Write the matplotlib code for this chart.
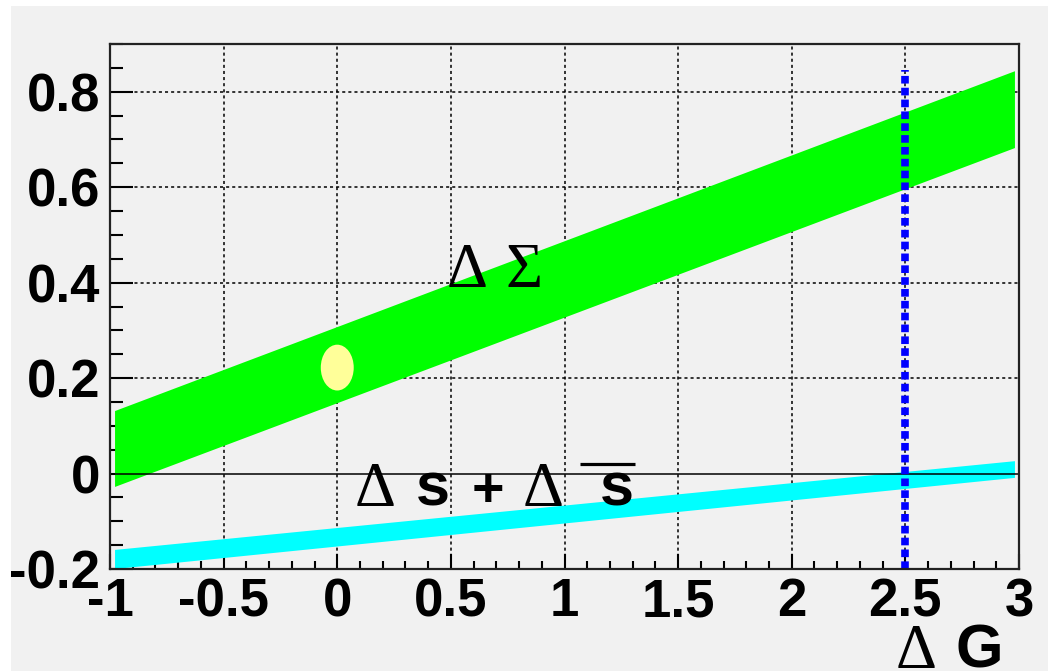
import matplotlib
matplotlib.use('Agg')
import matplotlib.pyplot as plt
from matplotlib.patches import Ellipse, Rectangle
from matplotlib.ticker import MultipleLocator

# band edges, read at the left and right ends of the bands
band_x = [-0.98, 2.98]
sigma_hi = [0.132, 0.844]
sigma_lo = [-0.027, 0.683]
strange_hi = [-0.159, 0.027]
strange_lo = [-0.199, -0.008]

# vertical marker at Delta G = 2.5
dg_x = 2.5
dg_y = [-0.2, 0.845]

# measured point (yellow ellipse)
pt_x, pt_y = 0.0, 0.222
pt_w, pt_h = 0.145, 0.096

xticks = [-1, -0.5, 0, 0.5, 1, 1.5, 2, 2.5, 3]
xticklabels = ['-1', '-0.5', '0', '0.5', '1', '1.5', '2', '2.5', '3']
yticks = [-0.2, 0, 0.2, 0.4, 0.6, 0.8]
yticklabels = ['-0.2', '0', '0.2', '0.4', '0.6', '0.8']

bg = '#f1f1f1'
sans = 'Liberation Sans'
serif = 'Liberation Serif'

fig = plt.figure(figsize=(10.48, 6.71), dpi=100)
fig.patch.set_facecolor('white')
fig.patches.append(Rectangle((11 / 1048, 0), 1, 1 - 6 / 671, transform=fig.transFigure,
                             facecolor=bg, edgecolor='none', zorder=-10))

W, H = 1048, 671
ax = fig.add_axes([110 / W, 1 - 569 / H, (1019 - 110) / W, (569 - 44) / H])
ax.set_facecolor(bg)
ax.set_xlim(-1, 3)
ax.set_ylim(-0.2, 0.9)

# grid
for x in xticks[1:-1]:
    ax.axvline(x, color='black', lw=1.1, ls=(0, (2, 2)), zorder=1)
for y in yticks[2:]:
    ax.axhline(y, color='black', lw=1.1, ls=(0, (2, 2)), zorder=1)

ax.fill_between(band_x, sigma_lo, sigma_hi, color='#00ff00', lw=0, zorder=2)
ax.fill_between(band_x, strange_lo, strange_hi, color='#00ffff', lw=0, zorder=2)
ax.add_patch(Ellipse((pt_x, pt_y), pt_w, pt_h, facecolor='#ffff99', edgecolor='none', zorder=3))

ax.axhline(0, color='black', lw=1.1, zorder=4)
ax.plot([dg_x, dg_x], dg_y, color='#0000ff', lw=5.5, ls=(0, (1, 0.55)), zorder=5,
        solid_capstyle='butt', dash_capstyle='butt')

# labels inside the frame
ax.text(0.571, 0.39, 'Δ', fontsize=46, family=serif, ha='center', va='baseline', zorder=6)
ax.text(0.822, 0.39, 'Σ', fontsize=46, family=serif, ha='center', va='baseline', zorder=6)
ax.text(0.166, -0.067, 'Δ', fontsize=46, family=serif, ha='center', va='baseline', zorder=6)
ax.text(0.421, -0.067, 's', fontsize=44, family=sans, weight='bold', ha='center', va='baseline', zorder=6)
ax.text(0.663, -0.067, '+', fontsize=40, family=sans, weight='bold', ha='center', va='baseline', zorder=6)
ax.text(0.905, -0.067, 'Δ', fontsize=46, family=serif, ha='center', va='baseline', zorder=6)
ax.text(1.231, -0.067, 's', fontsize=44, family=sans, weight='bold', ha='center', va='baseline', zorder=6)
ax.plot([1.068, 1.31], [0.019, 0.019], color='black', lw=2.3, zorder=6, solid_capstyle='butt')

# axis title
fig.text(916 / W, 1 - 668 / H, 'Δ', fontsize=46, family=serif, ha='center', va='baseline')
fig.text(979 / W, 1 - 668 / H, 'G', fontsize=44, family=sans, weight='bold', ha='center', va='baseline')

ax.set_xticks(xticks)
ax.set_xticklabels(xticklabels)
ax.set_yticks(yticks)
ax.set_yticklabels(yticklabels)
ax.xaxis.set_minor_locator(MultipleLocator(0.1))
ax.yaxis.set_minor_locator(MultipleLocator(0.05))
for lab in ax.get_xticklabels() + ax.get_yticklabels():
    lab.set_fontfamily(sans)
    lab.set_fontweight('bold')
    lab.set_fontsize(38)
ax.tick_params(axis='y', which='major', direction='in', length=16.5, width=1.5, pad=7)
ax.tick_params(axis='y', which='minor', direction='in', length=9.4, width=1.5)
ax.tick_params(axis='x', which='major', direction='in', length=11, width=1.5, pad=6)
ax.tick_params(axis='x', which='minor', direction='in', length=5.8, width=1.5)
for s in ax.spines.values():
    s.set_linewidth(1.6)
    s.set_color('#222222')
    s.set_zorder(7)

fig.savefig('out.png', dpi=100)
